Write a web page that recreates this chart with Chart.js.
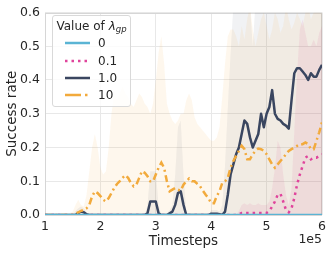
<!DOCTYPE html>
<html>
<head>
<meta charset="utf-8">
<script src="https://cdn.jsdelivr.net/npm/chart.js@4.4.0/dist/chart.umd.min.js"></script>
<style>
  body { margin: 0; background: #fff; }
  #wrap { position: relative; width: 332px; height: 255px; }
  #legend {
    position: absolute; left: 52px; top: 15px; width: 77px; height: 90px;
    border: 1px solid #d9d9d9; border-radius: 3px; background: rgba(255,255,255,0.8);
    font-family: 'DejaVu Sans', sans-serif; font-size: 12px; color: #262626;
  }
  #legend .title { position: absolute; left: 0; right: 0; top: 2px; text-align: center; line-height: 16px; white-space: nowrap; }
  #legend .title sub { font-size: 8.5px; vertical-align: -2px; }
  #legend .row { position: absolute; left: 0; height: 14px; line-height: 14px; width: 100%; }
  #legend .row svg { position: absolute; left: 12px; top: 4px; }
  #legend .row span { position: absolute; left: 45px; }
</style>
</head>
<body>
<div id="wrap">
  <canvas id="chart" width="332" height="255"></canvas>
  <div id="legend">
    <div class="title">Value of <i>λ</i><sub><i>gp</i></sub></div>
    <div class="row" style="top:20px"><svg width="26" height="6"><line x1="0" y1="3" x2="25" y2="3" stroke="#5ab4d4" stroke-width="2.5"/></svg><span>0</span></div>
    <div class="row" style="top:38px"><svg width="26" height="6"><line x1="0" y1="3" x2="25" y2="3" stroke="#e0449c" stroke-width="2.5" stroke-dasharray="2.5 4"/></svg><span>0.1</span></div>
    <div class="row" style="top:55px"><svg width="26" height="6"><line x1="0" y1="3" x2="25" y2="3" stroke="#3a4660" stroke-width="2.5"/></svg><span>1.0</span></div>
    <div class="row" style="top:72px"><svg width="26" height="6"><line x1="0" y1="3" x2="25" y2="3" stroke="#f2aa3c" stroke-width="2.5" stroke-dasharray="16 4 2.5 4"/></svg><span>10</span></div>
  </div>
</div>
<script>
// timesteps in units of 1e5
const steps = [
  1.00, 1.05, 1.10, 1.15, 1.20, 1.25, 1.30, 1.35, 1.40, 1.45,
  1.50, 1.55, 1.60, 1.65, 1.70, 1.75, 1.80, 1.85, 1.90, 1.95,
  2.00, 2.05, 2.10, 2.15, 2.20, 2.25, 2.30, 2.35, 2.40, 2.45,
  2.50, 2.55, 2.60, 2.65, 2.70, 2.75, 2.80, 2.85, 2.90, 2.95,
  3.00, 3.05, 3.10, 3.15, 3.20, 3.25, 3.30, 3.35, 3.40, 3.45,
  3.50, 3.55, 3.60, 3.65, 3.70, 3.75, 3.80, 3.85, 3.90, 3.95,
  4.00, 4.05, 4.10, 4.15, 4.20, 4.25, 4.30, 4.35, 4.40, 4.45,
  4.50, 4.55, 4.60, 4.65, 4.70, 4.75, 4.80, 4.85, 4.90, 4.95,
  5.00, 5.05, 5.10, 5.15, 5.20, 5.25, 5.30, 5.35, 5.40, 5.45,
  5.50, 5.55, 5.60, 5.65, 5.70, 5.75, 5.80, 5.85, 5.90, 5.95,
  6.00
];

// lambda_gp = 0 : flat at zero
const zeroSteps = [1.0, 6.0];
const rate0 = [0, 0];

// lambda_gp = 0.1
const rate01 = [
  0, 0, 0, 0, 0, 0, 0, 0, 0, 0,
  0, 0, 0, 0, 0, 0, 0, 0, 0, 0,
  0, 0, 0, 0, 0, 0, 0, 0, 0, 0,
  0, 0, 0, 0, 0, 0, 0, 0, 0, 0,
  0, 0, 0, 0, 0, 0, 0, 0, 0, 0,
  0, 0, 0, 0, 0, 0, 0, 0, 0, 0,
  0, 0, 0, 0, 0, 0, 0, 0, 0, 0,
  0.002, 0.006, 0.006, 0.006, 0.006, 0.006, 0.006, 0.006, 0.006, 0.006,
  0.006, 0.012, 0.025, 0.04, 0.06, 0.063, 0.04, 0.015, 0.008, 0.02,
  0.05, 0.09, 0.12, 0.145, 0.17, 0.175, 0.165, 0.17, 0.17, 0.175,
  0.18
];

// lambda_gp = 1.0
const rate1 = [
  0, 0, 0, 0, 0, 0, 0, 0, 0, 0,
  0, 0, 0.006, 0.01, 0.008, 0.002, 0, 0, 0, 0,
  0, 0, 0, 0, 0, 0, 0, 0, 0, 0,
  0, 0, 0, 0, 0, 0, 0, 0.005, 0.04, 0.04,
  0.04, 0.005, 0, 0, 0, 0.005, 0.01, 0.03, 0.065, 0.07,
  0.03, 0, 0, 0, 0, 0, 0, 0, 0, 0,
  0.004, 0.004, 0.004, 0.002, 0, 0.01, 0.06, 0.12, 0.15, 0.18,
  0.2, 0.24, 0.28, 0.27, 0.23, 0.2, 0.22, 0.24, 0.3, 0.26,
  0.3, 0.32, 0.37, 0.3, 0.285, 0.28, 0.27, 0.265, 0.256, 0.34,
  0.42, 0.435, 0.435, 0.425, 0.415, 0.4, 0.42, 0.41, 0.41, 0.43,
  0.445
];

// lambda_gp = 10
const rate10 = [
  0, 0, 0, 0, 0, 0, 0, 0, 0, 0,
  0, 0.004, 0.008, 0.012, 0.015, 0.02, 0.03, 0.055, 0.07, 0.065,
  0.056, 0.045, 0.04, 0.05, 0.065, 0.08, 0.092, 0.1, 0.11, 0.118,
  0.11, 0.095, 0.085, 0.09, 0.11, 0.13, 0.125, 0.115, 0.1, 0.1,
  0.12, 0.14, 0.155, 0.14, 0.1, 0.07, 0.075, 0.08, 0.075, 0.072,
  0.09, 0.1, 0.108, 0.1, 0.1, 0.092, 0.085, 0.072, 0.06, 0.05,
  0.035, 0.035, 0.056, 0.07, 0.095, 0.1, 0.11, 0.14, 0.16, 0.175,
  0.19, 0.205, 0.195, 0.165, 0.165, 0.18, 0.19, 0.197, 0.195, 0.19,
  0.18, 0.165, 0.15, 0.14, 0.15, 0.16, 0.17, 0.18, 0.19, 0.195,
  0.2, 0.205, 0.21, 0.21, 0.215, 0.21, 0.195, 0.195, 0.22, 0.245,
  0.275
];

// upper edges of the shaded spread (lower edges sit at zero)
const upper01 = [
  0, 0, 0, 0, 0, 0, 0, 0, 0, 0,
  0, 0, 0, 0, 0, 0, 0, 0, 0, 0,
  0, 0, 0, 0, 0, 0, 0, 0, 0, 0,
  0, 0, 0, 0, 0, 0, 0, 0, 0, 0,
  0, 0, 0, 0, 0, 0, 0, 0, 0, 0,
  0, 0, 0, 0, 0, 0, 0, 0, 0, 0,
  0, 0, 0, 0, 0, 0, 0, 0, 0, 0,
  0.012, 0.03, 0.035, 0.03, 0.035, 0.03, 0.03, 0.035, 0.03, 0.03,
  0.03, 0.04, 0.08, 0.14, 0.22, 0.2, 0.12, 0.06, 0.03, 0.08,
  0.25, 0.42, 0.55, 0.58, 0.54, 0.5, 0.5, 0.52, 0.5, 0.54,
  0.56
];

const upper1 = [
  0, 0, 0, 0, 0, 0, 0, 0, 0, 0,
  0, 0.012, 0.02, 0.025, 0.02, 0.008, 0, 0, 0, 0,
  0, 0, 0, 0, 0, 0, 0, 0, 0, 0,
  0, 0, 0, 0, 0, 0, 0, 0.03, 0.13, 0.13,
  0.13, 0.03, 0, 0, 0.005, 0.015, 0.03, 0.12, 0.26, 0.28,
  0.12, 0.01, 0, 0, 0, 0, 0, 0, 0, 0,
  0.015, 0.015, 0.015, 0.01, 0.03, 0.15, 0.32, 0.48, 0.62, 0.66,
  0.66, 0.64, 0.6, 0.6, 0.62, 0.5, 0.63, 0.66, 0.66, 0.66,
  0.66, 0.66, 0.66, 0.66, 0.66, 0.66, 0.66, 0.66, 0.66, 0.66,
  0.66, 0.66, 0.66, 0.66, 0.66, 0.66, 0.66, 0.66, 0.66, 0.66,
  0.66
];

const upper10 = [
  0, 0, 0, 0, 0, 0, 0, 0, 0.003, 0.006,
  0.01, 0.03, 0.045, 0.03, 0.025, 0.06, 0.13, 0.2, 0.24, 0.2,
  0.14, 0.12, 0.13, 0.2, 0.3, 0.36, 0.34, 0.36, 0.38, 0.36,
  0.35, 0.33, 0.32, 0.34, 0.36, 0.35, 0.33, 0.32, 0.3, 0.33,
  0.4, 0.48, 0.53, 0.45, 0.33, 0.3, 0.28, 0.27, 0.28, 0.3,
  0.3, 0.34, 0.36, 0.34, 0.29, 0.27, 0.26, 0.25, 0.24, 0.23,
  0.22, 0.22, 0.23, 0.26, 0.35, 0.45, 0.53, 0.55, 0.55, 0.53,
  0.5, 0.56, 0.52, 0.58, 0.62, 0.55, 0.5, 0.54, 0.58, 0.6,
  0.56, 0.52, 0.55, 0.6, 0.58, 0.54, 0.56, 0.62, 0.58, 0.55,
  0.57, 0.6, 0.58, 0.56, 0.6, 0.62, 0.58, 0.6, 0.62, 0.6,
  0.6
];

const yTicks = [0, 0.1, 0.2, 0.3, 0.4, 0.5, 0.6];
const xTicks = [1, 2, 3, 4, 5, 6];

function pts(xs, ys) {
  return xs.map((x, i) => ({ x: x, y: ys[i] }));
}

function band(ys, color) {
  return {
    data: pts(steps, ys), fill: 'origin', backgroundColor: color,
    borderWidth: 0, pointRadius: 0, order: 2
  };
}

const frame = {
  id: 'frame',
  beforeDatasetsDraw(chart) {
    const a = chart.chartArea, ctx = chart.ctx;
    ctx.save();
    ctx.strokeStyle = '#d6d6d6';
    ctx.lineWidth = 1;
    ctx.strokeRect(Math.round(a.left) + 0.5, Math.round(a.top) + 0.5,
      Math.round(a.right - a.left) - 1, Math.round(a.bottom - a.top) - 1);
    ctx.restore();
  },
  afterDraw(chart) {
    const ctx = chart.ctx;
    ctx.save();
    ctx.font = '12.5px "DejaVu Sans"';
    ctx.fillStyle = '#262626';
    ctx.textAlign = 'right';
    ctx.textBaseline = 'middle';
    ctx.fillText('1e5', chart.chartArea.right, 240);
    ctx.restore();
  }
};

new Chart(document.getElementById('chart'), {
  type: 'line',
  data: {
    datasets: [
      { data: pts(zeroSteps, rate0), borderColor: '#5ab4d4', borderWidth: 2.5, pointRadius: 0, order: 0 },
      { data: pts(steps, rate10), borderColor: '#f2aa3c', borderWidth: 2.5, borderDash: [7, 3.5, 2, 3.5], pointRadius: 0, order: 1 },
      { data: pts(steps, rate1), borderColor: '#3a4660', borderWidth: 2.5, pointRadius: 0, borderJoinStyle: 'round', order: 1 },
      { data: pts(steps, rate01), borderColor: '#e0449c', borderWidth: 2.5, borderDash: [2.5, 4], pointRadius: 0, order: 1 },
      band(upper10, 'rgba(242,170,60,0.09)'),
      band(upper1, 'rgba(58,70,96,0.07)'),
      band(upper01, 'rgba(224,68,156,0.1)')
    ]
  },
  options: {
    responsive: false,
    animation: false,
    layout: { padding: { left: 0, right: 10, top: 11, bottom: 0 } },
    plugins: { legend: { display: false }, tooltip: { enabled: false } },
    scales: {
      x: {
        type: 'linear', min: 1, max: 6,
        afterBuildTicks: s => { s.ticks = xTicks.map(v => ({ value: v })); },
        afterFit: s => { s.height = 40; },
        ticks: { color: '#262626', font: { family: 'DejaVu Sans', size: 12.5 }, padding: 4, maxRotation: 0 },
        grid: { color: '#e8e8e8', drawTicks: false },
        border: { display: false },
        title: { display: true, text: 'Timesteps', color: '#262626', font: { family: 'DejaVu Sans', size: 13.5 }, padding: { top: 0, bottom: 5 } }
      },
      y: {
        min: 0, max: 0.6,
        afterBuildTicks: s => { s.ticks = yTicks.map(v => ({ value: v })); },
        afterFit: s => { s.width = 45; },
        ticks: { color: '#262626', font: { family: 'DejaVu Sans', size: 12.5 }, padding: 5, callback: v => v.toFixed(1) },
        grid: { color: '#e8e8e8', drawTicks: false },
        border: { display: false },
        title: { display: true, text: 'Success rate', color: '#262626', font: { family: 'DejaVu Sans', size: 13.5 }, padding: { top: 4, bottom: 0 } }
      }
    }
  },
  plugins: [frame]
});
</script>
</body>
</html>
